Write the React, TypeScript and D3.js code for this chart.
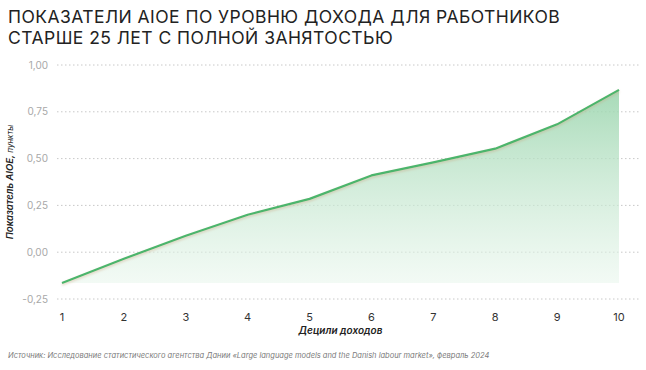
import React from 'react';
import * as d3 from 'd3';

const deciles = [1, 2, 3, 4, 5, 6, 7, 8, 9, 10];
const aioeValues = [-0.165, -0.035, 0.088, 0.2, 0.285, 0.41, 0.48, 0.553, 0.683, 0.867];
const yTicks = [-0.25, 0, 0.25, 0.5, 0.75, 1.0];

const titleLines = [
  'Показатели AIOE по уровню дохода для работников',
  'старше 25 лет с полной занятостью',
];
const yAxisTitle = 'Показатель AIOE,';
const yAxisUnit = ' пункты';
const xAxisTitle = 'Децили доходов';
const sourceText =
  'Источник: Исследование статистического агентства Дании «Large language models and the Danish labour market», февраль 2024';

const W = 646;
const H = 370;
const FONT = 'Inter, "Noto Sans", sans-serif';

export default function App() {
  const x = d3.scaleLinear().domain([1, 10]).range([62, 619]);
  const y = d3.scaleLinear().domain([-0.25, 1]).range([299, 65]);

  const pts: [number, number][] = deciles.map((d, i) => [d, aioeValues[i]]);
  const baseline = d3.min(aioeValues) as number;

  const line = d3
    .line<[number, number]>()
    .x((d) => x(d[0]))
    .y((d) => y(d[1]));

  const area = d3
    .area<[number, number]>()
    .x((d) => x(d[0]))
    .y0(y(baseline))
    .y1((d) => y(d[1]));

  const fmt = (v: number) => v.toFixed(2).replace('.', ',');

  return (
    <svg width={W} height={H} style={{ position: 'absolute', left: 0, top: 0, background: '#fff' }}>
      <defs>
        <linearGradient id="fillGrad" x1="0" y1={y(1)} x2="0" y2={y(baseline)} gradientUnits="userSpaceOnUse">
          <stop offset="0%" stopColor="#8fd0a4" stopOpacity={0.9} />
          <stop offset="100%" stopColor="#e8f6ec" stopOpacity={0.55} />
        </linearGradient>
        <filter id="shadow" x="-5%" y="-20%" width="110%" height="140%">
          <feDropShadow dx="0" dy="1.5" stdDeviation="1" floodColor="#c9a27a" floodOpacity="0.45" />
        </filter>
      </defs>

      {titleLines.map((t, i) => (
        <text key={i} x={8} y={23 + i * 21} fontFamily={FONT} fontSize={17.5} fill="#222" letterSpacing={0.45}>
          {t.toUpperCase()}
        </text>
      ))}

      {/* grid */}
      {yTicks.map((t) => (
        <g key={t}>
          <line
            x1={57}
            x2={640}
            y1={y(t)}
            y2={y(t)}
            stroke="#c8c8c8"
            strokeWidth={1}
            strokeDasharray="1.5,2.5"
          />
          <text
            x={48}
            y={y(t)}
            dy="0.35em"
            textAnchor="end"
            fontFamily={FONT}
            fontSize={10}
            fill="#a8a8a8"
          >
            {fmt(t)}
          </text>
        </g>
      ))}

      <path d={area(pts) ?? ''} fill="url(#fillGrad)" />
      <path
        d={line(pts) ?? ''}
        fill="none"
        stroke="#4cb56c"
        strokeWidth={2.2}
        strokeLinejoin="round"
        filter="url(#shadow)"
      />

      {deciles.map((d) => (
        <text
          key={d}
          x={x(d)}
          y={321}
          textAnchor="middle"
          fontFamily={FONT}
          fontSize={11}
          fill="#333"
        >
          {d}
        </text>
      ))}

      <text
        x={x(5.5)}
        y={334}
        textAnchor="middle"
        fontFamily={FONT}
        fontSize={10}
        fontStyle="italic"
        fontWeight={600}
        fill="#222"
      >
        {xAxisTitle}
      </text>

      <text
        transform={`translate(13, ${y(0.375)}) rotate(-90)`}
        textAnchor="middle"
        fontFamily={FONT}
        fontStyle="italic"
        fill="#222"
      >
        <tspan fontSize={9.5} fontWeight={600}>{yAxisTitle}</tspan>
        <tspan fontSize={8}>{yAxisUnit}</tspan>
      </text>

      <text x={8} y={358} fontFamily={FONT} fontSize={7.5} fontStyle="italic" fill="#7a7a7a">
        {sourceText}
      </text>
    </svg>
  );
}
